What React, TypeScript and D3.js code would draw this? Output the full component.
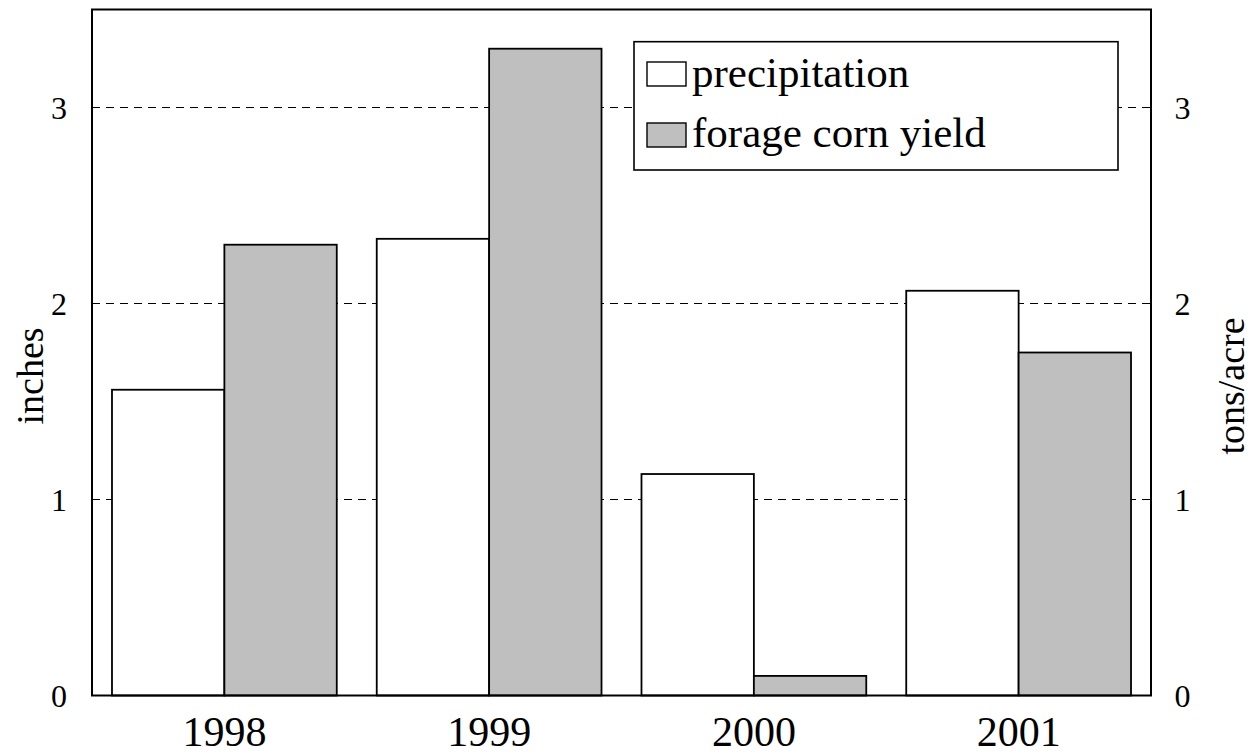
import React from "react";
import * as d3 from "d3";

const years = ["1998", "1999", "2000", "2001"];
const precipitation = [1.56, 2.33, 1.13, 2.065];
const forageYield = [2.3, 3.3, 0.1, 1.75];
const seriesNames = ["precipitation", "forage corn yield"];
const seriesColors = ["#ffffff", "#bfbfbf"];
const yTicks = [0, 1, 2, 3];
const gridTicks = [1, 2, 3];

const W = 1254;
const H = 755;
const M = { left: 92, right: 1151, top: 9.5, bottom: 695.5 };
const FONT = "'Liberation Serif', 'Times New Roman', serif";

export default function App() {
  const x = d3
    .scaleBand<string>()
    .domain(years)
    .range([M.left, M.right])
    .paddingInner(0.151)
    .paddingOuter(0.0755);
  const xs = d3
    .scaleBand<string>()
    .domain(seriesNames)
    .range([0, x.bandwidth()]);
  const yL = d3.scaleLinear().domain([0, 3.5]).range([M.bottom, M.top]);
  const yR = d3.scaleLinear().domain([0, 3.5]).range([M.bottom, M.top]);
  const series = [precipitation, forageYield];
  const scales = [yL, yR];

  return (
    <svg
      width={W}
      height={H}
      style={{ position: "absolute", left: 0, top: 0, background: "#fff" }}
      fontFamily={FONT}
    >
      <rect x={0} y={0} width={W} height={H} fill="#fff" />
      {gridTicks.map((t) => (
        <line
          key={"g" + t}
          x1={M.left}
          x2={M.right}
          y1={yL(t)}
          y2={yL(t)}
          stroke="#000"
          strokeWidth={1.2}
          strokeDasharray="8,6"
        />
      ))}
      {years.map((yr, i) => (
        <g key={yr}>
          {series.map((s, j) => (
            <rect
              key={j}
              x={(x(yr) as number) + (xs(seriesNames[j]) as number)}
              y={scales[j](s[i])}
              width={xs.bandwidth()}
              height={M.bottom - scales[j](s[i])}
              fill={seriesColors[j]}
              stroke="#000"
              strokeWidth={1.8}
            />
          ))}
          <text
            x={(x(yr) as number) + x.bandwidth() / 2}
            y={746}
            fontSize={42}
            textAnchor="middle"
          >
            {yr}
          </text>
        </g>
      ))}
      <rect
        x={M.left}
        y={M.top}
        width={M.right - M.left}
        height={M.bottom - M.top}
        fill="none"
        stroke="#000"
        strokeWidth={2}
      />
      {yTicks.map((t) => (
        <text
          key={"l" + t}
          x={59}
          y={yL(t) + 11}
          fontSize={32}
          textAnchor="middle"
        >
          {t}
        </text>
      ))}
      {yTicks.map((t) => (
        <text
          key={"r" + t}
          x={1182.5}
          y={yR(t) + 11}
          fontSize={32}
          textAnchor="middle"
        >
          {t}
        </text>
      ))}
      <text
        transform="translate(43,376) rotate(-90)"
        fontSize={38}
        textAnchor="middle"
      >
        inches
      </text>
      <text
        transform="translate(1244,386) rotate(-90)"
        fontSize={38}
        textAnchor="middle"
      >
        tons/acre
      </text>
      <g>
        <rect
          x={634}
          y={41.7}
          width={484}
          height={128.3}
          fill="#fff"
          stroke="#000"
          strokeWidth={1.6}
        />
        {seriesNames.map((n, j) => (
          <g key={n}>
            <rect
              x={647}
              y={62 + j * 61}
              width={39}
              height={24}
              fill={seriesColors[j]}
              stroke="#000"
              strokeWidth={1.4}
            />
            <text x={692} y={86.7 + j * 60.6} fontSize={43}>
              {n}
            </text>
          </g>
        ))}
      </g>
    </svg>
  );
}
